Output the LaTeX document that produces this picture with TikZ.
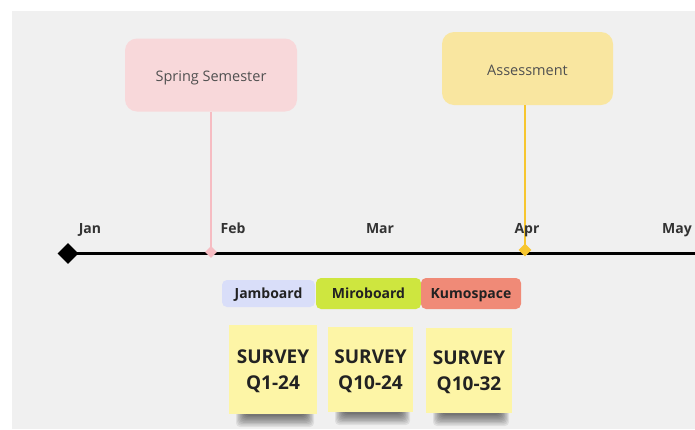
\documentclass[tikz,border=0pt]{standalone}
\usepackage{fontspec}
\setmainfont{Open Sans}
\usetikzlibrary{shapes.geometric}

\definecolor{canvas}{HTML}{F0F0F0}
\definecolor{springfill}{HTML}{F8D8DA}
\definecolor{springline}{HTML}{F6BCC2}
\definecolor{assessfill}{HTML}{F9E6A0}
\definecolor{assessline}{HTML}{F7C62F}
\definecolor{jamfill}{HTML}{D9DEF9}
\definecolor{mirofill}{HTML}{CEE63F}
\definecolor{kumofill}{HTML}{F08A77}
\definecolor{notefill}{HTML}{FDF5A6}
\definecolor{labeltext}{HTML}{505050}
\definecolor{monthtext}{HTML}{333333}
\definecolor{darktext}{HTML}{222222}

\tikzset{
  eventbox/.style={rounded corners=12pt, minimum width=172pt, minimum height=73pt,
    inner sep=0pt, text=labeltext, text height=16pt, text depth=3pt,
    font=\fontsize{14.5}{17}\selectfont},
  month/.style={text=monthtext, font=\fontsize{14}{16}\selectfont\bfseries,
    inner sep=0pt, text height=10.5pt, text depth=3pt},
  toolbox/.style={rounded corners=5pt, inner sep=0pt, text=darktext,
    text height=13.6pt, text depth=3pt,
    font=\fontsize{14}{16}\selectfont\bfseries},
  sticky/.style={fill=notefill, inner sep=0pt, align=center, text=darktext,
    font=\fontsize{19}{26.5}\selectfont\bfseries},
  marker/.style={diamond, aspect=1, inner sep=0pt, draw=none},
}

% two-line sticky-note text, padded so the caps sit centred in the note
\newcommand{\notetext}[2]{\rule{0pt}{18.6pt}#1\\#2\rule[-5pt]{0pt}{5pt}}

% soft shadow strip under a sticky note: #1 left, #2 right, #3 bottom edge
\newcommand{\noteshadow}[3]{%
  \foreach \k in {0,...,8}{%
    \fill[black, opacity=0.075, rounded corners=4pt]
      ({#1+7+\k*1.1},{#3-8}) rectangle ({#2-3-\k*1.1},{#3+13-\k*1.4});
  }%
}

\begin{document}
\begin{tikzpicture}[x=1pt, y=-1pt]
  % page and canvas
  \useasboundingbox (0,0) rectangle (695,429);
  \fill[white] (0,0) rectangle (695,429);
  \fill[canvas] (12,11) rectangle (695,429);

  % anchor points on the time line
  \coordinate (jan0) at (68,253.5);
  \coordinate (lineend) at (695,253.5);
  \coordinate (febpt) at (211,252);
  \coordinate (aprpt) at (525,250);

  % event boxes
  \node[eventbox, fill=springfill] (spring) at (211,75) {Spring Semester};
  \node[eventbox, fill=assessfill, minimum width=171pt] (assess) at (527.5,68.5) {Assessment};

  % time line
  \draw[line width=3.8pt, black] (jan0) -- (lineend);

  % event connectors
  \draw[springline, line width=1.8pt] (spring.south) -- (febpt);
  \draw[assessline, line width=1.8pt] (assess.south -| aprpt) -- (aprpt);

  % markers
  \node[marker, fill=black, minimum size=21pt] (start) at (jan0) {};
  \node[marker, fill=springline, minimum size=12pt] (febmark) at (febpt) {};
  \node[marker, fill=assessline, minimum size=13pt] (aprmark) at (aprpt) {};

  % month labels
  \node[month] (jan) at (90,230) {Jan};
  \node[month] (feb) at (233,230) {Feb};
  \node[month] (mar) at (380,230) {Mar};
  \node[month] (apr) at (527,230) {Apr};
  \node[month] (may) at (677,230) {May};

  % tools
  \node[toolbox, fill=jamfill, minimum width=93pt, minimum height=27pt] (jam) at (268.5,293.5) {Jamboard};
  \node[toolbox, fill=mirofill, minimum width=105pt, minimum height=31pt] (miro) at (368.5,293.5) {Miroboard};
  \node[toolbox, fill=kumofill, minimum width=100pt, minimum height=31pt] (kumo) at (471,293.5) {Kumospace};

  % sticky note shadows
  \noteshadow{229}{317}{414}
  \noteshadow{328}{413}{412}
  \noteshadow{426}{512}{413}

  % sticky notes
  \node[sticky, minimum width=88pt, minimum height=89pt] (s1) at (273,369.5) {\notetext{SURVEY}{Q1-24}};
  \node[sticky, minimum width=85pt, minimum height=85pt] (s2) at (370.5,369.5) {\notetext{SURVEY}{Q10-24}};
  \node[sticky, minimum width=86pt, minimum height=85pt] (s3) at (469,370.5) {\notetext{SURVEY}{Q10-32}};
\end{tikzpicture}
\end{document}
